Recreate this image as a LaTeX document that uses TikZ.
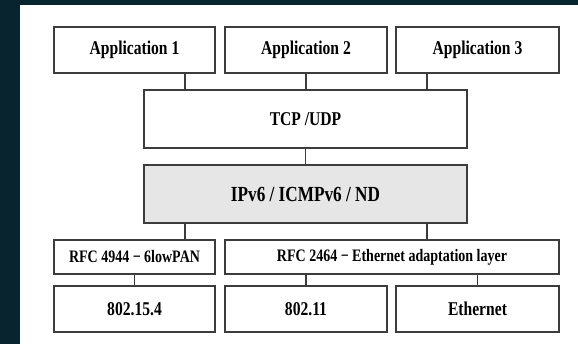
\documentclass[tikz,border=0pt]{standalone}
\usepackage{fontspec}
\setmainfont{Liberation Serif}[FakeStretch=0.8]
\usepackage{tikz}
\usetikzlibrary{positioning,calc}
\definecolor{frame}{HTML}{08252F}
\definecolor{edge}{HTML}{3C3C3C}
\definecolor{ipfill}{HTML}{E6E6E6}

\begin{document}
\begin{tikzpicture}[x=1pt, y=-1pt,
    layer/.style={draw=edge, line width=1.1pt, inner sep=0pt, text=black,
      font=\bfseries\fontsize{19.5}{22}\selectfont},
    small/.style={font=\bfseries\fontsize{17.5}{20}\selectfont},
    big/.style={font=\bfseries\fontsize{21.5}{24}\selectfont},
    link/.style={draw=edge, line width=1.1pt}]
    \useasboundingbox (0,0) rectangle (578,344);
    \fill[frame] (0,0) rectangle (578,344);
    \fill[white] (20,5) rectangle (578,344);

    % applications
    \node[layer, minimum width=161, minimum height=46] (app1) at (134.5,50) {Application 1};
    \node[layer, minimum width=162, minimum height=46] (app2) at (306,50) {Application 2};
    \node[layer, minimum width=163, minimum height=46] (app3) at (477.5,50) {Application 3};

    % transport and network
    \node[layer, minimum width=323, minimum height=58] (tcp) at (305.5,119) {TCP /UDP};
    \node[layer, big, fill=ipfill, minimum width=323, minimum height=58] (ipv6) at (305.5,194) {IPv6 / ICMPv6 / ND};

    % adaptation layers
    \node[layer, small, minimum width=161, minimum height=34] (rfc4944) at (134.5,257) {RFC 4944 − 6lowPAN};
    \node[layer, small, minimum width=334, minimum height=34] (rfc2464) at (392,257) {RFC 2464 − Ethernet adaptation layer};

    % links
    \node[layer, minimum width=161, minimum height=46] (lowpan) at (134.5,309) {802.15.4};
    \node[layer, minimum width=162, minimum height=46] (wifi) at (306,309) {802.11};
    \node[layer, minimum width=163, minimum height=46] (eth) at (477.5,309) {Ethernet};

    \draw[link] ([xshift=50.5]app1.south) -- ([xshift=50.5]app1.south |- tcp.north);
    \draw[link] (app2.south) -- (app2.south |- tcp.north);
    \draw[link] ([xshift=-50.5]app3.south) -- ([xshift=-50.5]app3.south |- tcp.north);
    \draw[link] (tcp.south) -- (ipv6.north);
    \draw[link] ([xshift=50.5]rfc4944.north) -- ([xshift=50.5]rfc4944.north |- ipv6.south);
    \draw[link] ([xshift=35]rfc2464.north) -- ([xshift=35]rfc2464.north |- ipv6.south);
    \draw[link] (rfc4944.south) -- (lowpan.north);
    \draw[link] (wifi.north) -- (wifi.north |- rfc2464.south);
    \draw[link] (eth.north) -- (eth.north |- rfc2464.south);
\end{tikzpicture}
\end{document}
